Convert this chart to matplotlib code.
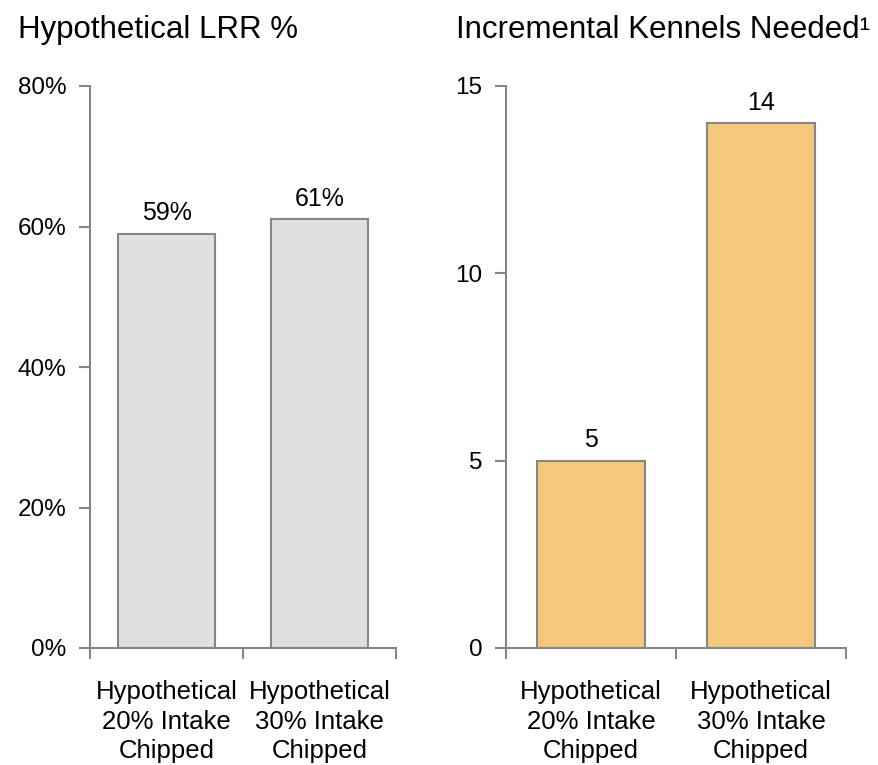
import matplotlib.pyplot as plt
from matplotlib.ticker import FixedLocator

plt.rcParams['font.family'] = ['Liberation Sans', 'DejaVu Sans']

categories = ['Hypothetical\n20% Intake\nChipped', 'Hypothetical\n30% Intake\nChipped']
lrr_values = [59, 61]
lrr_labels = ['59%', '61%']
kennel_values = [5, 14]
kennel_labels = ['5', '14']
lrr_ticks = [0, 20, 40, 60, 80]
kennel_ticks = [0, 5, 10, 15]

axis_gray = '#868686'

fig = plt.figure(figsize=(8.79, 7.65), dpi=100)
ax1 = fig.add_axes([90 / 879, 117 / 765, 306 / 879, 562 / 765])
ax2 = fig.add_axes([506 / 879, 117 / 765, 340 / 879, 562 / 765])


def style_axis(ax, values, labels, color, ticks, ticklabels):
    x = range(len(values))
    bars = ax.bar(x, values, width=0.63, color=color, edgecolor=axis_gray, linewidth=1.5, zorder=2)
    for b, lab in zip(bars, labels):
        ax.annotate(lab, (b.get_x() + b.get_width() / 2, b.get_height()),
                    xytext=(0, 6), textcoords='offset points',
                    ha='center', va='bottom', fontsize=18)
    ax.set_xlim(-0.5, len(values) - 0.5)
    ax.set_ylim(ticks[0], ticks[-1])
    ax.set_yticks(ticks)
    ax.set_yticklabels(ticklabels, fontsize=17.5)
    ax.set_xticks(list(x))
    ax.set_xticklabels(categories, fontsize=18.5, linespacing=1.3)
    ax.xaxis.set_minor_locator(FixedLocator([i - 0.5 for i in range(len(values) + 1)]))
    ax.tick_params(axis='x', which='major', length=0, pad=23)
    ax.tick_params(axis='x', which='minor', length=8, width=1.5, color=axis_gray, direction='out')
    ax.tick_params(axis='y', length=8, width=1.5, color=axis_gray, direction='out', pad=9)
    for s in ['top', 'right']:
        ax.spines[s].set_visible(False)
    for s in ['left', 'bottom']:
        ax.spines[s].set_color(axis_gray)
        ax.spines[s].set_linewidth(1.5)


style_axis(ax1, lrr_values, lrr_labels, '#E0E0E0', lrr_ticks, [f'{t}%' for t in lrr_ticks])
style_axis(ax2, kennel_values, kennel_labels, '#F4C77C', kennel_ticks, [str(t) for t in kennel_ticks])

fig.text(18 / 879, 1 - 30 / 765, 'Hypothetical LRR %', fontsize=22.5, va='center', ha='left')
fig.text(456 / 879, 1 - 30 / 765, 'Incremental Kennels Needed\u00b9', fontsize=22.5, va='center', ha='left')

fig.savefig('out.png', dpi=100)
